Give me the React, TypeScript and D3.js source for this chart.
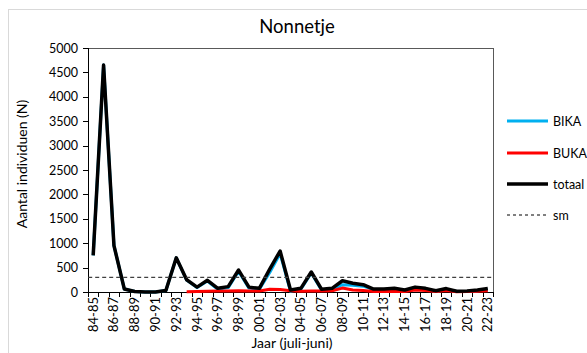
import React from "react";
import * as d3 from "d3";

const categories = ["84-85","85-86","86-87","87-88","88-89","89-90","90-91","91-92","92-93","93-94","94-95","95-96","96-97","97-98","98-99","99-00","00-01","01-02","02-03","03-04","04-05","05-06","06-07","07-08","08-09","09-10","10-11","11-12","12-13","13-14","14-15","15-16","16-17","17-18","18-19","19-20","20-21","21-22","22-23"];
const totaal = [750,4650,950,60,10,0,0,30,700,250,100,240,75,110,450,100,75,470,840,40,75,410,55,75,230,180,150,60,60,75,40,100,75,25,70,15,20,40,70];
const bika = [750,4650,950,60,10,0,0,30,700,245,90,225,55,90,425,80,55,400,790,15,60,390,35,50,150,140,120,50,50,60,30,60,45,15,40,10,10,25,45];
const buka: (number|null)[] = [null,null,null,null,null,null,null,null,null,5,10,15,20,20,25,20,20,55,50,25,15,20,20,25,80,40,30,10,10,15,10,40,30,10,30,5,10,15,25];
const sm = 300;
const yTicks = [0,500,1000,1500,2000,2500,3000,3500,4000,4500,5000];

const FONT = "Lato, 'Open Sans', sans-serif";

export default function App() {
  const W = 587, H = 353;
  const L = 88, R = 493, T = 48, B = 292;
  const x = d3.scaleBand<string>().domain(categories).range([L, R]);
  const y = d3.scaleLinear().domain([0, 5000]).range([B, T]);
  const cx = (c: string) => (x(c) as number) + x.bandwidth() / 2;

  const lineGen = d3.line<[string, number | null]>()
    .defined(d => d[1] !== null)
    .x(d => cx(d[0]))
    .y(d => y(d[1] as number));

  const mk = (vals: (number | null)[]) => lineGen(categories.map((c, i) => [c, vals[i]] as [string, number | null])) || "";

  const legend = [
    { label: "BIKA", color: "#00B0F0", w: 3, dash: "", y: 121 },
    { label: "BUKA", color: "#FF0000", w: 3, dash: "", y: 153 },
    { label: "totaal", color: "#000000", w: 3.5, dash: "", y: 184 },
    { label: "sm", color: "#000000", w: 1, dash: "3,3", y: 215 },
  ];

  return (
    <svg width={W} height={H} style={{ position: "absolute", left: 0, top: 0, fontFamily: FONT }}>
      <rect x={0} y={0} width={W} height={H} fill="#fff" />
      <rect x={8.5} y={9.5} width={700} height={500} fill="#fff" stroke="#d9d9d9" strokeWidth={1} />
      <text x={297} y={33} textAnchor="middle" fontSize={18.5} fill="#000">Nonnetje</text>
      {/* plot border */}
      <line x1={L} y1={T + 0.5} x2={R} y2={T + 0.5} stroke="#595959" strokeWidth={1} />
      <line x1={R + 0.5} y1={T} x2={R + 0.5} y2={B} stroke="#595959" strokeWidth={1} />
      {/* y axis */}
      <line x1={L + 0.5} y1={T} x2={L + 0.5} y2={B} stroke="#000" strokeWidth={1} />
      {yTicks.map(t => (
        <g key={t}>
          <line x1={L - 5} x2={L} y1={Math.round(y(t)) + 0.5} y2={Math.round(y(t)) + 0.5} stroke="#000" />
          <text x={L - 10} y={y(t) + 4.5} textAnchor="end" fontSize={12.5} fill="#000">{t}</text>
        </g>
      ))}
      {/* x axis */}
      <line x1={L} y1={B + 0.5} x2={R} y2={B + 0.5} stroke="#000" strokeWidth={1} />
      {categories.map((c) => (
        <line key={"t" + c} x1={Math.round(x(c) as number) + 0.5} x2={Math.round(x(c) as number) + 0.5} y1={B} y2={B + 5} stroke="#000" />
      ))}
      <line x1={R + 0.5} x2={R + 0.5} y1={B} y2={B + 5} stroke="#000" />
      {categories.map((c, i) => i % 2 === 0 ? (
        <text key={"l" + c} transform={`translate(${cx(c) + 4.5},${B + 5}) rotate(-90)`} textAnchor="end" fontSize={13} fill="#000">{c}</text>
      ) : null)}
      <text x={292} y={348} textAnchor="middle" fontSize={14} fill="#000">Jaar (juli-juni)</text>
      <text transform={`translate(27,${(T + B) / 2 - 6}) rotate(-90)`} textAnchor="middle" fontSize={14} fill="#000">Aantal individuen (N)</text>
      {/* series */}
      <path d={mk(bika)} fill="none" stroke="#00B0F0" strokeWidth={3} strokeLinejoin="round" />
      <path d={mk(buka)} fill="none" stroke="#FF0000" strokeWidth={3} strokeLinejoin="round" />
      <path d={mk(totaal)} fill="none" stroke="#000" strokeWidth={3.5} strokeLinejoin="round" />
      <line x1={cx(categories[0]) - 5} x2={R} y1={y(sm)} y2={y(sm)} stroke="#404040" strokeWidth={1.2} strokeDasharray="4,3" />
      {/* legend */}
      {legend.map(l => (
        <g key={l.label}>
          <line x1={507} x2={548} y1={l.y} y2={l.y} stroke={l.color} strokeWidth={l.w} strokeDasharray={l.dash} />
          <text x={553} y={l.y + 4.5} fontSize={12.5} fill="#000">{l.label}</text>
        </g>
      ))}
    </svg>
  );
}
